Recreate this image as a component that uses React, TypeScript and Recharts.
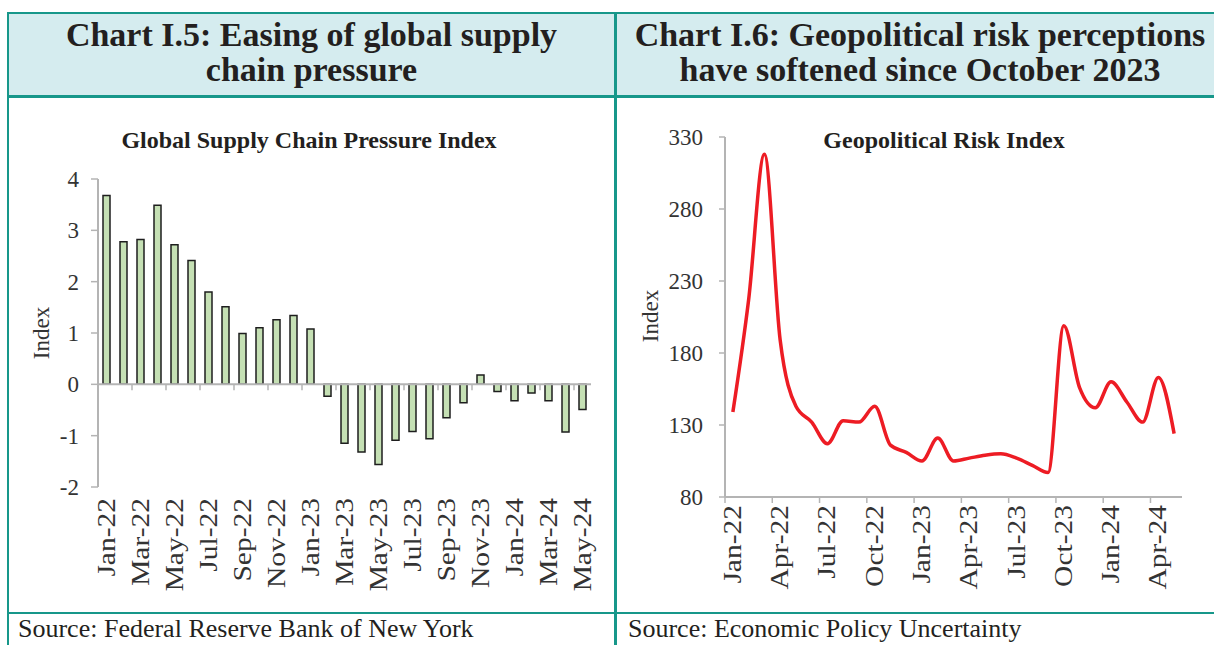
import { Bar, BarChart, Line, LineChart, ReferenceLine, XAxis, YAxis } from "recharts"

const months = [
  "Jan-22", "Feb-22", "Mar-22", "Apr-22", "May-22", "Jun-22", "Jul-22", "Aug-22", "Sep-22", "Oct-22", "Nov-22", "Dec-22",
  "Jan-23", "Feb-23", "Mar-23", "Apr-23", "May-23", "Jun-23", "Jul-23", "Aug-23", "Sep-23", "Oct-23", "Nov-23", "Dec-23",
  "Jan-24", "Feb-24", "Mar-24", "Apr-24", "May-24",
]

// Global Supply Chain Pressure Index
const gscpi = [
  3.68, 2.78, 2.82, 3.49, 2.72, 2.41, 1.8, 1.51, 0.99, 1.1, 1.26, 1.34,
  1.08, -0.23, -1.15, -1.32, -1.56, -1.09, -0.92, -1.06, -0.65, -0.36, 0.18, -0.14,
  -0.32, -0.17, -0.32, -0.93, -0.49,
]

// Geopolitical Risk Index
const gpr = [
  139, 217, 318, 189, 143, 132, 117, 133, 132, 143, 116, 111,
  105, 121, 105, 107, 109, 110, 107, 102, 97, 199, 156, 142,
  160, 146, 132, 163, 124,
]

const gscpiTicks = [-2, -1, 0, 1, 2, 3, 4]
const gprTicks = [80, 130, 180, 230, 280, 330]

const barData = months.map((m, i) => ({ month: m, value: gscpi[i] }))
const lineData = months.map((m, i) => ({ month: m, value: gpr[i] }))

const TEAL = "#17978a"
const HEAD_BG = "#d5ecef"
const AXIS = "#b4b4b4"
const TXT = "#333333"
const FONT = "'Liberation Serif', 'Times New Roman', serif"

// plot sizes (used for band width / zero line of custom ticks)
const L_W = 605, L_H = 514
const L_M = { top: 81, right: 23, bottom: 25, left: 29 }
const L_YW = 60, L_XH = 100
const L_PW = L_W - L_M.left - L_M.right - L_YW
const L_PH = L_H - L_M.top - L_M.bottom - L_XH

const R_W = 607, R_H = 514
const R_M = { top: 39, right: 42, bottom: 15, left: 28 }
const R_YW = 80, R_XH = 100
const R_PW = R_W - R_M.left - R_M.right - R_YW

const MonthLabel = ({ x, y, value }: { x: number; y: number; value: string }) => (
  <text
    transform={`translate(${x + 8},${y}) rotate(-90) scale(1.18,1)`}
    textAnchor="end"
    fill={TXT}
    fontSize={25}
    fontFamily={FONT}
  >
    {value}
  </text>
)

const BarTick = (props: any) => {
  const { x, y, payload } = props
  const bw = L_PW / months.length
  const zeroY = y - (L_PH * (0 - gscpiTicks[0])) / (gscpiTicks[6] - gscpiTicks[0])
  return (
    <g>
      {payload.index > 0 && (
        <line x1={x - bw / 2} x2={x - bw / 2} y1={zeroY} y2={zeroY + 6} stroke={AXIS} strokeWidth={1.5} />
      )}
      <MonthLabel x={x} y={y + 11} value={payload.value} />
    </g>
  )
}

const LineTick = (props: any) => {
  const { x, y, payload } = props
  const bw = R_PW / months.length
  return (
    <g>
      <line x1={x - bw / 2} x2={x - bw / 2} y1={y} y2={y + 6} stroke={AXIS} strokeWidth={1.5} />
      <MonthLabel x={x} y={y + 8} value={payload.value} />
    </g>
  )
}

const abs = (s: any) => ({ position: "absolute" as const, ...s })

export default function App() {
  const bwR = R_PW / months.length
  return (
    <div style={abs({ left: 0, top: 0, width: 1214, height: 645, overflow: "hidden", background: "#fff", fontFamily: FONT, color: "#231f20" })}>
      {/* frame */}
      <div style={abs({ left: 7, top: 12, width: 1240, height: 700, borderLeft: `2px solid ${TEAL}`, borderTop: `2px solid ${TEAL}` })} />
      <div style={abs({ left: 9, top: 14, width: 1240, height: 81, background: HEAD_BG })} />
      <div style={abs({ left: 9, top: 95, width: 1240, height: 3, background: TEAL })} />
      <div style={abs({ left: 614, top: 14, width: 3, height: 640, background: TEAL })} />
      <div style={abs({ left: 9, top: 612, width: 1240, height: 2, background: TEAL })} />

      {/* headers */}
      <div style={abs({ left: 9, top: 17, width: 605, textAlign: "center", fontWeight: 700, fontSize: 34, lineHeight: "35px", whiteSpace: "nowrap" })}>
        Chart I.5: Easing of global supply
        <br />
        chain pressure
      </div>
      <div style={abs({ left: 617, top: 17, width: 606, textAlign: "center", fontWeight: 700, fontSize: 34, lineHeight: "35px", whiteSpace: "nowrap" })}>
        Chart I.6: Geopolitical risk perceptions
        <br />
        have softened since October 2023
      </div>

      {/* footers */}
      <div style={abs({ left: 18, top: 614, fontSize: 26, whiteSpace: "nowrap" })}>Source: Federal Reserve Bank of New York</div>
      <div style={abs({ left: 628, top: 614, fontSize: 26, whiteSpace: "nowrap" })}>Source: Economic Policy Uncertainty</div>

      {/* chart titles */}
      <div style={abs({ left: 309, top: 127, transform: "translateX(-50%)", fontWeight: 700, fontSize: 24, whiteSpace: "nowrap" })}>
        Global Supply Chain Pressure Index
      </div>
      <div style={abs({ left: 944, top: 127, transform: "translateX(-50%)", fontWeight: 700, fontSize: 24, whiteSpace: "nowrap" })}>
        Geopolitical Risk Index
      </div>

      {/* axis titles */}
      <div style={abs({ left: 42, top: 333, transform: "translate(-50%,-50%) rotate(-90deg)", fontSize: 23, color: TXT })}>Index</div>
      <div style={abs({ left: 651, top: 316, transform: "translate(-50%,-50%) rotate(-90deg)", fontSize: 23, color: TXT })}>Index</div>

      <div style={abs({ left: 9, top: 98 })}>
        <BarChart width={L_W} height={L_H} data={barData} margin={L_M} barSize={7}>
          <XAxis
            dataKey="month"
            height={L_XH}
            interval={1}
            axisLine={false}
            tickLine={false}
            tickSize={0}
            tickMargin={0}
            tick={<BarTick />}
          />
          <YAxis
            domain={[gscpiTicks[0], gscpiTicks[6]]}
            ticks={gscpiTicks}
            interval={0}
            width={L_YW}
            axisLine={{ stroke: AXIS, strokeWidth: 2 }}
            tickLine={{ stroke: AXIS, strokeWidth: 1.5 }}
            tickSize={7}
            tickMargin={12}
            tick={{ fill: TXT, fontSize: 23, fontFamily: FONT }}
          />
          <ReferenceLine y={0} stroke={AXIS} strokeWidth={2} />
          <Bar dataKey="value" fill="#c5e0b4" stroke="#1e1e1e" strokeWidth={1.5} isAnimationActive={false} />
        </BarChart>
      </div>

      <div style={abs({ left: 617, top: 98 })}>
        <LineChart width={R_W} height={R_H} data={lineData} margin={R_M}>
          <XAxis
            dataKey="month"
            height={R_XH}
            interval={2}
            padding={{ left: bwR / 2, right: bwR / 2 }}
            axisLine={{ stroke: AXIS, strokeWidth: 2 }}
            tickLine={false}
            tickSize={0}
            tickMargin={0}
            tick={<LineTick />}
          />
          <YAxis
            domain={[gprTicks[0], gprTicks[5]]}
            ticks={gprTicks}
            interval={0}
            width={R_YW}
            axisLine={{ stroke: AXIS, strokeWidth: 2 }}
            tickLine={{ stroke: AXIS, strokeWidth: 1.5 }}
            tickSize={6}
            tickMargin={16}
            tick={{ fill: TXT, fontSize: 23, fontFamily: FONT }}
          />
          <Line
            type="monotone"
            dataKey="value"
            stroke="#ed1c24"
            strokeWidth={3.5}
            dot={false}
            isAnimationActive={false}
          />
        </LineChart>
      </div>
    </div>
  )
}
